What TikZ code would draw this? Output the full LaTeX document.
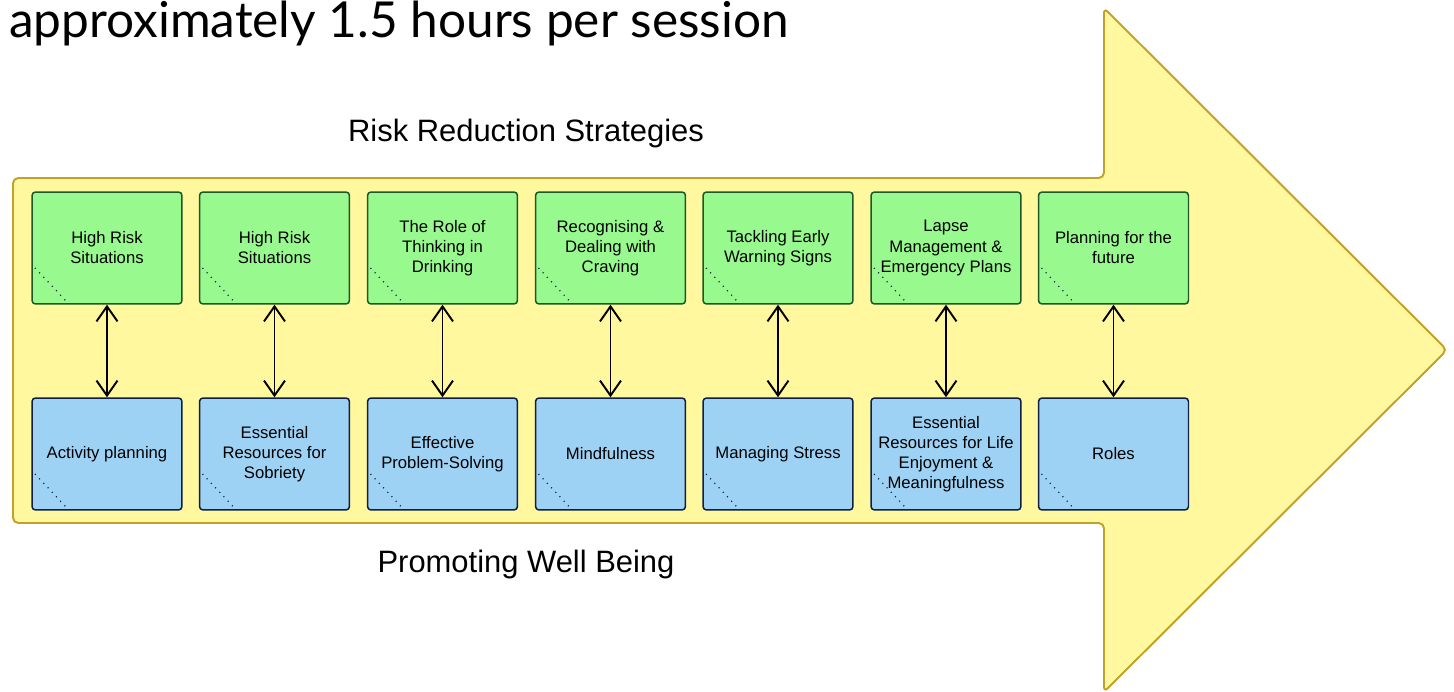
\documentclass[tikz,border=0pt]{standalone}
\usepackage{fontspec}
\setmainfont{Liberation Sans}
\newfontfamily\titlefont{Lato}
\usetikzlibrary{arrows.meta, calc, positioning}

\definecolor{arrowfill}{RGB}{255,248,158}
\definecolor{arrowline}{RGB}{196,160,40}
\definecolor{riskfill}{RGB}{152,250,142}
\definecolor{riskline}{RGB}{28,88,40}
\definecolor{wellfill}{RGB}{158,210,244}
\definecolor{wellline}{RGB}{14,30,70}

\tikzset{
	session/.style={rounded corners=2pt, minimum width=3cm, minimum height=2.24cm,
		align=center, font=\fontsize{9.5}{11.4}\selectfont, line width=0.85pt,
		path picture={\draw[wellline, line width=0.7pt, dash pattern=on 0.6pt off 2.9pt]
			($(path picture bounding box.south west)+(0.06cm,0.72cm)$) --
			($(path picture bounding box.south west)+(0.68cm,0.06cm)$);}},
	riskbox/.style={session, draw=riskline, fill=riskfill},
	wellbox/.style={session, draw=wellline, fill=wellfill},
	link/.style={{Straight Barb[length=0.3cm,width=0.42cm]}-{Straight Barb[length=0.3cm,width=0.42cm]}, line width=1.1pt}
}

\begin{document}
\begin{tikzpicture}[x=0.02cm, y=-0.02cm]
	\useasboundingbox (0,0) rectangle (1454,692);
	% big arrow
	\draw[fill=arrowfill, draw=arrowline, line width=1.1pt, rounded corners=3pt]
		(13,178) -- (1104,178) -- (1104,8) -- (1447,350) -- (1104,692) -- (1104,523) -- (13,523) -- cycle;
	\node[anchor=base west, font=\titlefont\fontsize{28.2}{32}\selectfont] (title) at (3,38) {approximately 1.5 hours per session};
	\node[anchor=base, font=\fontsize{17.6}{20}\selectfont] (risk) at (526,142) {Risk Reduction Strategies};
	\node[anchor=base, font=\fontsize{17.6}{20}\selectfont] (well) at (526,572) {Promoting Well Being};
	% risk reduction row
	\node[riskbox] (g1) at (107,248) {High Risk\\Situations};
	\node[riskbox] (g2) at (274.5,248) {High Risk\\Situations};
	\node[riskbox] (g3) at (442.5,248) {The Role of\\Thinking in\\Drinking};
	\node[riskbox] (g4) at (610.5,248) {Recognising \&\\Dealing with\\Craving};
	\node[riskbox] (g5) at (778,248) {Tackling Early\\Warning Signs};
	\node[riskbox] (g6) at (946,248) {Lapse\\Management \&\\Emergency Plans};
	\node[riskbox] (g7) at (1113.5,248) {Planning for the\\future};
	% well being row
	\node[wellbox] (b1) at (107,454) {Activity planning};
	\node[wellbox] (b2) at (274.5,454) {Essential\\Resources for\\Sobriety};
	\node[wellbox] (b3) at (442.5,454) {Effective\\Problem-Solving};
	\node[wellbox] (b4) at (610.5,454) {Mindfulness};
	\node[wellbox] (b5) at (778,454) {Managing Stress};
	\node[wellbox] (b6) at (946,454) {Essential\\Resources for Life\\Enjoyment \&\\Meaningfulness};
	\node[wellbox] (b7) at (1113.5,454) {Roles};
	% links
	\draw[link] (g1) -- (b1);
	\draw[link] (g2) -- (b2);
	\draw[link] (g3) -- (b3);
	\draw[link] (g4) -- (b4);
	\draw[link] (g5) -- (b5);
	\draw[link] (g6) -- (b6);
	\draw[link] (g7) -- (b7);
\end{tikzpicture}
\end{document}
